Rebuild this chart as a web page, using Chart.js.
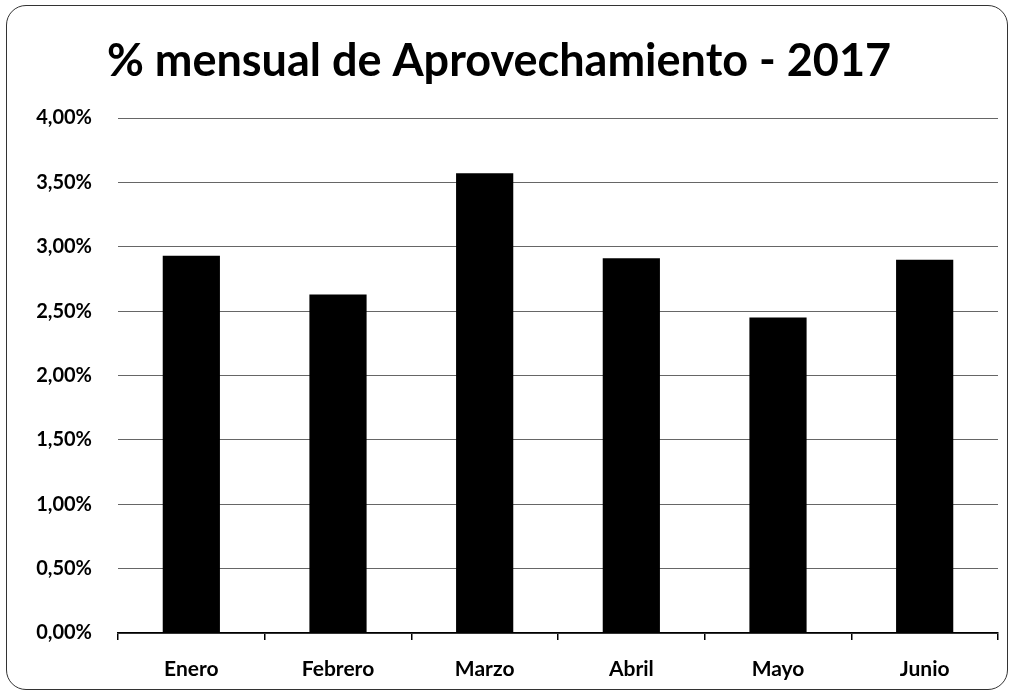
<!DOCTYPE html>
<html>
<head>
<meta charset="utf-8">
<script src="https://cdn.jsdelivr.net/npm/chart.js@4/dist/chart.umd.min.js"></script>
<style>
  html, body { margin: 0; padding: 0; background: #fff; }
  #marco {
    position: absolute; left: 6px; top: 5px; width: 1000px; height: 683px;
    border: 1.5px solid #333; border-radius: 20px;
  }
  #grafico { position: absolute; left: 0; top: 0; }
</style>
</head>
<body>
<div id="marco"></div>
<canvas id="grafico" width="1013" height="695"></canvas>
<script>
  const meses = ["Enero", "Febrero", "Marzo", "Abril", "Mayo", "Junio"];
  const aprovechamiento = [2.93, 2.63, 3.57, 2.91, 2.45, 2.90];
  const marcasEje = [0, 0.5, 1, 1.5, 2, 2.5, 3, 3.5, 4];

  const fuente = "Lato, 'Open Sans', sans-serif";

  // formato con coma decimal: 2,50%
  const pct = v => v.toFixed(2).replace(".", ",") + "%";

  const ctx = document.getElementById("grafico").getContext("2d");
  const chart = new Chart(ctx, {
    type: "bar",
    data: {
      labels: meses,
      datasets: [
        {
          label: "% mensual",
          data: aprovechamiento,
          backgroundColor: "#000",
          borderWidth: 0,
          barPercentage: 0.39,
          categoryPercentage: 1,
        },
      ],
    },
    options: {
      responsive: false,
      animation: false,
      layout: { padding: { left: 0, right: 15, top: 14, bottom: 12 } },
      plugins: {
        legend: { display: false },
        tooltip: { enabled: false },
        title: {
          display: true,
          text: "% mensual de Aprovechamiento - 2017",
          color: "#000",
          font: { family: fuente, size: 45, weight: "bold" },
          padding: { top: 20, bottom: 30 },
        },
      },
      scales: {
        x: {
          afterFit: s => { s.height = 50; },
          grid: {
            display: true,
            offset: true,
            drawOnChartArea: false,
            drawTicks: true,
            tickLength: 7,
            color: "#000",
            lineWidth: 1.5,
          },
          border: { display: true, color: "#000", width: 1.5 },
          ticks: {
            color: "#000",
            padding: 17,
            font: { family: fuente, size: 21, weight: "bold" },
          },
        },
        y: {
          min: 0,
          max: 4,
          afterBuildTicks: s => { s.ticks = marcasEje.map(v => ({ value: v })); },
          afterFit: s => { s.width = 118; },
          grid: { color: "#666", lineWidth: 1, drawTicks: false },
          border: { display: false },
          ticks: {
            color: "#000",
            padding: 26,
            font: { family: fuente, size: 20, weight: "bold" },
            callback: v => pct(v),
          },
        },
      },
    },
  });
</script>
</body>
</html>
